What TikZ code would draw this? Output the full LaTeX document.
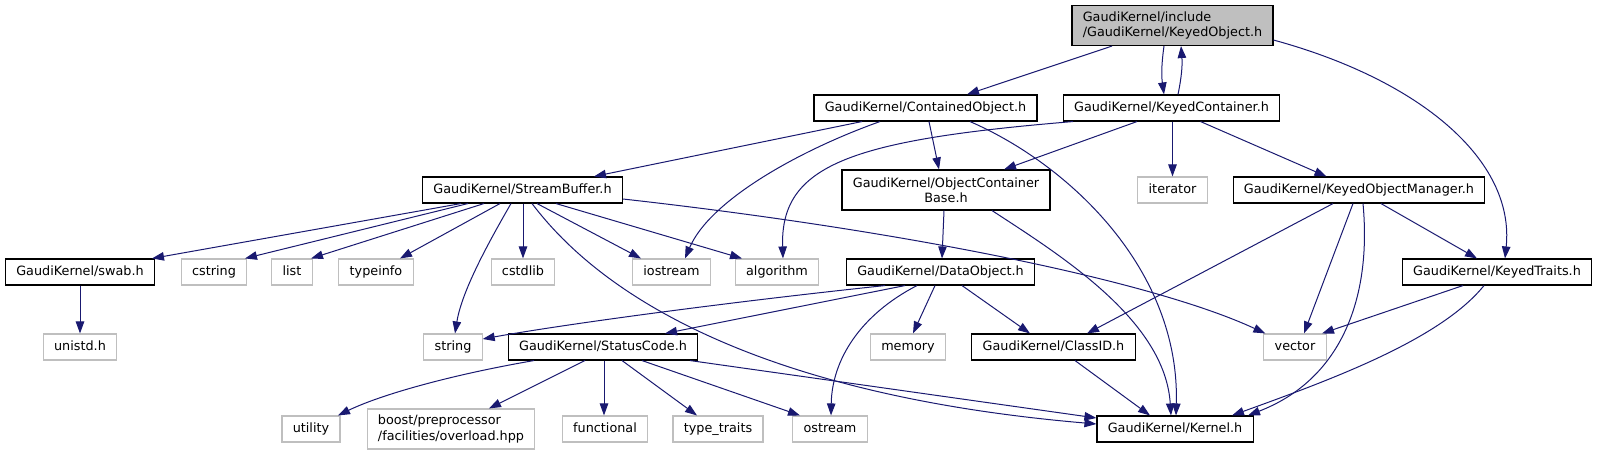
\documentclass[tikz,border=0pt]{standalone}
\usepackage{fontspec}
\setmainfont{DejaVu Sans}
\usetikzlibrary{arrows.meta}
\definecolor{edgeblue}{HTML}{191970}
\definecolor{greyl}{HTML}{BFBFBF}
\tikzset{
  base/.style={rectangle, inner xsep=10.8pt, inner ysep=0pt, line width=1.1pt,
    font=\fontsize{12.8}{15.4}\selectfont, text=black},
  one/.style={base, minimum height=26pt, text height=9.5pt, text depth=3pt},
  two/.style={base, minimum height=40pt},
  lk/.style={draw=black},
  gr/.style={draw=greyl},
  rootst/.style={draw=black, fill=greyl},
  e/.style={draw=edgeblue, line width=1pt, -{Triangle[length=12pt,width=8.5pt]}}
}
\begin{document}
\begin{tikzpicture}[x=1pt,y=-1pt]
\useasboundingbox (0,0) rectangle (1599,455);
% rank 0
\node[two, rootst, align=left] (ko) at (1172.5,25.5) {GaudiKernel/include\\/GaudiKernel/KeyedObject.h};
% rank 1
\node[one, lk] (co) at (925.5,108) {GaudiKernel/ContainedObject.h};
\node[one, lk] (kc) at (1171.5,108) {GaudiKernel/KeyedContainer.h};
% rank 2
\node[one, lk] (sb) at (522.5,190) {GaudiKernel/StreamBuffer.h};
\node[two, lk, align=center] (ocb) at (946,190) {GaudiKernel/ObjectContainer\\Base.h};
\node[one, gr] (it) at (1172.5,190) {iterator};
\node[one, lk] (kom) at (1359,190) {GaudiKernel/KeyedObjectManager.h};
% rank 3
\node[one, lk] (sw) at (80,272) {GaudiKernel/swab.h};
\node[one, gr] (cs) at (214,272) {cstring};
\node[one, gr] (li) at (292,272) {list};
\node[one, gr] (ti) at (376,272) {typeinfo};
\node[one, gr] (cd) at (523,272) {cstdlib};
\node[one, gr] (io) at (671.5,272) {iostream};
\node[one, gr] (al) at (777,272) {algorithm};
\node[one, lk] (do) at (940.5,272) {GaudiKernel/DataObject.h};
\node[one, lk] (kt) at (1497,272) {GaudiKernel/KeyedTraits.h};
% rank 4
\node[one, gr] (un) at (80,347) {unistd.h};
\node[one, gr] (st) at (453,347) {string};
\node[one, lk] (sc) at (603,347) {GaudiKernel/StatusCode.h};
\node[one, gr] (me) at (908,347) {memory};
\node[one, lk] (ci) at (1053.5,347) {GaudiKernel/ClassID.h};
\node[one, gr] (ve) at (1295,347) {vector};
% rank 5
\node[one, gr] (ut) at (311,429) {utility};
\node[two, gr, align=left] (bo) at (451,429) {boost/preprocessor\\/facilities/overload.hpp};
\node[one, gr] (fu) at (605,429) {functional};
\node[one, gr] (tt) at (718,429) {type\_traits};
\node[one, gr] (os) at (830,429) {ostream};
\node[one, lk] (ke) at (1175,429) {GaudiKernel/Kernel.h};

% KeyedObject
\draw[e] ([xshift=-60.5pt]ko.south) -- ([xshift=41.5pt]co.north);
\draw[e] ([xshift=-8.5pt]ko.south) to[bend right=8] ([xshift=-7.5pt]kc.north);
\draw[e] ([xshift=6.5pt]kc.north) to[bend right=8] ([xshift=8.5pt]ko.south);
\draw[e] ([yshift=6pt]ko.south east) .. controls (1420,80) and (1515,160) .. ([xshift=8pt]kt.north);
% ContainedObject
\draw[e] ([xshift=-63.5pt]co.south) -- ([xshift=71.5pt]sb.north);
\draw[e] ([xshift=-45.5pt]co.south) .. controls (800,150) and (710,200) .. ([xshift=13.5pt]io.north);
\draw[e] ([xshift=3.5pt]co.south) -- ([xshift=-7pt]ocb.north);
\draw[e] ([xshift=44.5pt]co.south) .. controls (1070,165) and (1180,270) .. ([xshift=1pt]ke.north);
% KeyedContainer
\draw[e] ([xshift=-98.5pt]kc.south) .. controls (850,140) and (780,165) .. ([xshift=6pt]al.north);
\draw[e] ([xshift=-34.5pt]kc.south) -- ([xshift=58pt]ocb.north);
\draw[e] ([xshift=1pt]kc.south) -- (it.north);
\draw[e] ([xshift=29pt]kc.south) -- ([xshift=-32.5pt]kom.north);
% StreamBuffer
\draw[e] ([xshift=-61.5pt]sb.south) -- ([xshift=72pt]sw.north);
\draw[e] ([xshift=-54.5pt]sb.south) -- ([xshift=31pt]cs.north);
\draw[e] ([xshift=-38.5pt]sb.south) -- ([xshift=19pt]li.north);
\draw[e] ([xshift=-22.5pt]sb.south) -- ([xshift=24pt]ti.north);
\draw[e] ([xshift=0.5pt]sb.south) -- (cd.north);
\draw[e] ([xshift=-11.5pt]sb.south) .. controls (490,240) and (462,290) .. ([xshift=2pt]st.north);
\draw[e] ([xshift=14.5pt]sb.south) -- ([xshift=-30.5pt]io.north);
\draw[e] ([xshift=33.5pt]sb.south) -- ([xshift=-35pt]al.north);
\draw[e] ([xshift=9.5pt]sb.south) .. controls (575,260) and (700,390) .. ([yshift=5pt]ke.west);
\draw[e] ([yshift=-9pt]sb.east) .. controls (900,230) and (1150,280) .. ([xshift=2pt]ve.north west);
% swab
\draw[e] (sw.south) -- (un.north);
% ObjectContainerBase
\draw[e] ([xshift=-2pt]ocb.south) -- ([xshift=1.5pt]do.north);
\draw[e] ([xshift=46pt]ocb.south) .. controls (1060,255) and (1165,320) .. ([xshift=-4pt]ke.north);
% KeyedObjectManager
\draw[e] ([xshift=-26pt]kom.south) -- ([xshift=33.5pt]ci.north);
\draw[e] ([xshift=-6pt]kom.south) -- ([xshift=9pt]ve.north);
\draw[e] ([xshift=4pt]kom.south) .. controls (1372,300) and (1340,380) .. ([xshift=73pt]ke.north);
\draw[e] ([xshift=22pt]kom.south) -- ([xshift=-20pt]kt.north);
% KeyedTraits
\draw[e] ([xshift=-34pt]kt.south) -- ([xshift=27pt]ve.north);
\draw[e] ([xshift=-13pt]kt.south) .. controls (1440,340) and (1330,380) .. ([xshift=57pt]ke.north);
% DataObject
\draw[e] ([xshift=-55.5pt]do.south) .. controls (720,303) and (560,325) .. ([yshift=8pt]st.east);
\draw[e] ([xshift=-35.5pt]do.south) -- ([xshift=62pt]sc.north);
\draw[e] ([xshift=-23.5pt]do.south) .. controls (860,315) and (832,360) .. ([xshift=1pt]os.north);
\draw[e] ([xshift=-5.5pt]do.south) -- ([xshift=5pt]me.north);
\draw[e] ([xshift=21.5pt]do.south) -- ([xshift=-23.5pt]ci.north);
% StatusCode
\draw[e] ([xshift=-69pt]sc.south) .. controls (450,375) and (380,395) .. ([xshift=27pt]ut.north);
\draw[e] ([xshift=-18pt]sc.south) -- ([xshift=38pt]bo.north);
\draw[e] ([xshift=1pt]sc.south) -- ([xshift=-1pt]fu.north);
\draw[e] ([xshift=19pt]sc.south) -- ([xshift=-21pt]tt.north);
\draw[e] ([xshift=39pt]sc.south) -- ([xshift=-30pt]os.north);
\draw[e] ([xshift=87pt]sc.south) -- ([yshift=11pt]ke.west);
% ClassID
\draw[e] ([xshift=21.5pt]ci.south) -- ([xshift=-25pt]ke.north);
\end{tikzpicture}
\end{document}
